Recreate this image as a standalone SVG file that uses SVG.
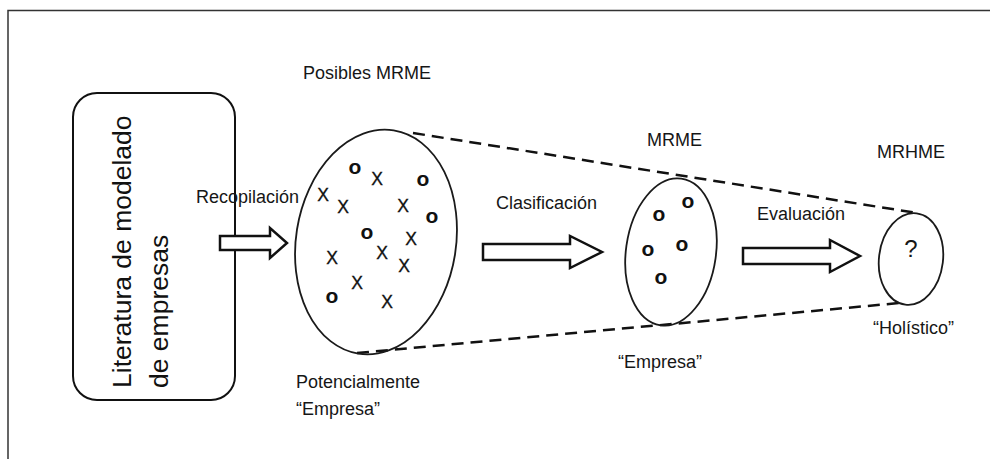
<svg xmlns="http://www.w3.org/2000/svg" width="990" height="459" viewBox="0 0 990 459">
  <style>
    .lbl { font-family: "Liberation Sans", Arial, sans-serif; font-size: 18px; fill: #161616; }
    .big { font-family: "Liberation Sans", Arial, sans-serif; font-size: 26.5px; fill: #111; }
    .o { font-family: "Liberation Sans", Arial, sans-serif; font-size: 21px; font-weight: bold; fill: #111; text-anchor: middle; }
    .x { font-family: "Liberation Sans", Arial, sans-serif; font-size: 17.5px; fill: #111; stroke: #111; stroke-width: 0.3; text-anchor: middle; }
    .set { fill: none; stroke: #1a1a1a; stroke-width: 1.8; }
    .block { fill: #fff; stroke: #111; stroke-width: 2.5; stroke-linejoin: miter; }
    .dash { fill: none; stroke: #111; stroke-width: 2.5; stroke-dasharray: 12 7; }
  </style>

  <rect width="990" height="459" fill="#fff"/>

  <!-- frame (top and left edges) -->
  <path d="M8,459 V10.5 H990" fill="none" stroke="#333" stroke-width="1.5"/>

  <!-- source box -->
  <g id="literatura">
    <rect x="73" y="93" width="162" height="307" rx="24" ry="24" fill="none" stroke="#111" stroke-width="2"/>
    <text class="big" transform="translate(131,388) rotate(-90)">Literatura de modelado</text>
    <text class="big" transform="translate(168,388) rotate(-90)">de empresas</text>
  </g>

  <!-- connectors: funnel outline and process arrows -->
  <g id="connectors">
    <line class="dash" x1="413" y1="133" x2="917" y2="213"/>
    <line class="dash" x1="357" y1="353" x2="900" y2="303"/>
    <polygon class="block" points="220,236 270,236 270,228 287,243 270,258 270,250 220,250"/>
    <polygon class="block" points="483,244 570,244 570,236 602,252 570,268 570,260 483,260"/>
    <polygon class="block" points="743,248 830,248 830,240 860,256 830,272 830,264 743,264"/>
  </g>

  <!-- possible models -->
  <g id="posibles">
    <ellipse class="set" cx="0" cy="0" rx="80" ry="113" transform="translate(376,242) rotate(9)" fill="#fff"/>
    <text class="o" x="355" y="174">o</text>
    <text class="o" x="423" y="186">o</text>
    <text class="o" x="432" y="223">o</text>
    <text class="o" x="367" y="239">o</text>
    <text class="o" x="332" y="303">o</text>
    <text class="x" x="323" y="201">X</text>
    <text class="x" x="377" y="185">X</text>
    <text class="x" x="343" y="213">X</text>
    <text class="x" x="403" y="212">X</text>
    <text class="x" x="411" y="245">X</text>
    <text class="x" x="382" y="259">X</text>
    <text class="x" x="332" y="264">X</text>
    <text class="x" x="404" y="272">X</text>
    <text class="x" x="357" y="289">X</text>
    <text class="x" x="387" y="308">X</text>
  </g>

  <!-- enterprise models -->
  <g id="mrme">
    <ellipse class="set" cx="0" cy="0" rx="45" ry="74" transform="translate(671,252) rotate(8)" fill="#fff"/>
    <text class="o" x="688" y="208">o</text>
    <text class="o" x="659" y="221">o</text>
    <text class="o" x="648" y="256">o</text>
    <text class="o" x="682" y="251">o</text>
    <text class="o" x="661" y="284">o</text>
  </g>

  <!-- holistic model -->
  <g id="mrhme">
    <ellipse class="set" cx="0" cy="0" rx="32" ry="46" transform="translate(911,259) rotate(7)" fill="#fff"/>
    <text class="lbl" x="911" y="257" text-anchor="middle" style="font-size:24px">?</text>
  </g>

  <!-- labels -->
  <g id="labels">
    <text class="lbl" x="303" y="79">Posibles MRME</text>
    <text class="lbl" x="647" y="146">MRME</text>
    <text class="lbl" x="877" y="158">MRHME</text>
    <text class="lbl" x="196" y="203">Recopilación</text>
    <text class="lbl" x="496" y="209">Clasificación</text>
    <text class="lbl" x="757" y="220">Evaluación</text>
    <text class="lbl" x="296" y="388">Potencialmente</text>
    <text class="lbl" x="296" y="415">“Empresa”</text>
    <text class="lbl" x="618" y="368">“Empresa”</text>
    <text class="lbl" x="873" y="334">“Holístico”</text>
  </g>
</svg>
